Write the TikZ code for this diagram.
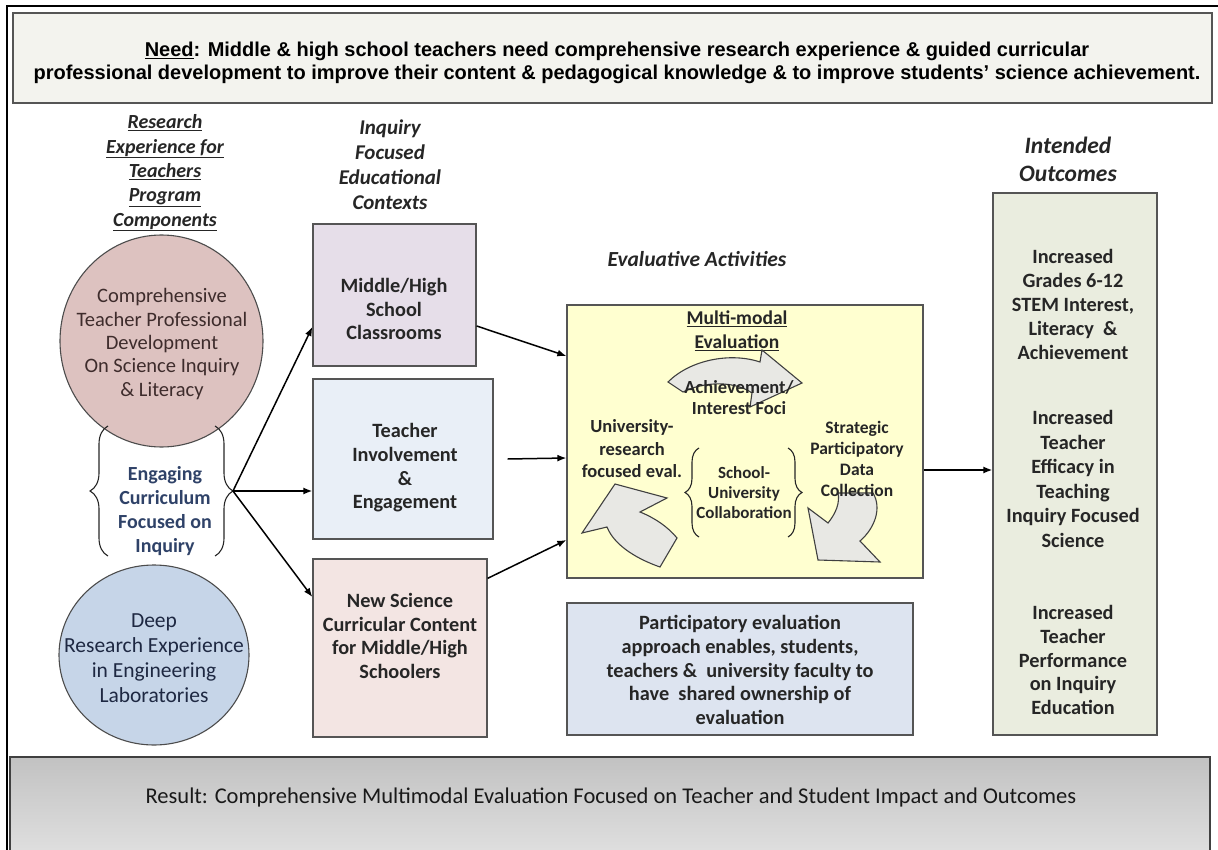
\documentclass[tikz,border=0pt]{standalone}
\usepackage{fontspec}
\setmainfont{Carlito}
\newfontfamily\arialn{Liberation Sans}
\usetikzlibrary{arrows.meta,decorations.pathreplacing,shapes.geometric}
\definecolor{needfill}{RGB}{243,243,238}
\definecolor{pinkc}{RGB}{221,194,192}
\definecolor{bluec}{RGB}{198,213,232}
\definecolor{boxa}{RGB}{230,222,233}
\definecolor{boxb}{RGB}{233,239,247}
\definecolor{boxc}{RGB}{243,229,227}
\definecolor{yell}{RGB}{255,255,208}
\definecolor{partc}{RGB}{221,228,240}
\definecolor{outc}{RGB}{234,237,223}
\definecolor{arrowgray}{RGB}{232,232,228}
\definecolor{navytxt}{RGB}{47,66,104}
\definecolor{browntxt}{RGB}{62,44,44}
\definecolor{navy2}{RGB}{30,40,66}
\definecolor{edgec}{RGB}{85,85,85}
\begin{document}
\begin{tikzpicture}[x=1pt,y=-1pt,
  box/.style={draw=edgec, line width=1.3, rectangle, inner sep=0pt},
  bodytxt/.style={align=center, text=black!85, font=\bfseries\fontsize{20.3}{23.5}\selectfont},
  hdr/.style={align=center, text=black!85, font=\bfseries\itshape\fontsize{20}{24.3}\selectfont},
  conn/.style={line width=1.5, -{Latex[length=9pt,width=7pt]}},
  cyc/.style={fill=arrowgray, draw=black!75, line width=1.1},
  brc/.style={decorate, decoration={brace, amplitude=#1}, line width=1.1, draw=black!85}
]
\useasboundingbox (0,0) rectangle (1218,850);
\clip (0,0) rectangle (1218,850);
% outer frame
\draw[line width=2.5] (7,850) -- (7,6) -- (1218,6);
% need box
\node[box, fill=needfill, line width=2, minimum width=1199, minimum height=90] (need) at (612.5,58) {};
\node[align=center, font=\arialn\bfseries\fontsize{20}{23}\selectfont] (needtxt) at (617,63)
 {\underline{Need}: Middle \& high school teachers need comprehensive research experience \& guided curricular\\
 professional development to improve their content \& pedagogical knowledge \& to improve students’ science achievement.};

% column 1
\node[hdr] (hdr1) at (165,173) {\underline{Research}\\\underline{Experience for}\\\underline{Teachers}\\\underline{Program}\\\underline{Components}};
\node[ellipse, draw=black!70, line width=1.1, fill=pinkc, minimum width=203, minimum height=212, inner sep=0pt] (c1) at (161.5,341) {};
\node[align=center, text=browntxt, font=\fontsize{20.5}{23.3}\selectfont] (c1t) at (162,344)
 {Comprehensive\\Teacher Professional\\Development\\On Science Inquiry\\\& Literacy};
\node[align=center, text=navytxt, font=\bfseries\fontsize{20}{24}\selectfont] (eng) at (165,511)
 {Engaging\\Curriculum\\Focused on\\Inquiry};
\draw[brc=18] (108,556) -- (108,426);
\draw[brc=18] (215,426) -- (215,556);
\coordinate (btip) at (233,491);
\node[ellipse, draw=black!70, line width=1.1, fill=bluec, minimum width=190, minimum height=180, inner sep=0pt] (c2) at (154,655) {};
\node[align=center, text=navy2, font=\fontsize{21.5}{25}\selectfont] (c2t) at (154,658)
 {Deep\\Research Experience\\in Engineering\\Laboratories};

% column 2
\node[hdr, font=\bfseries\itshape\fontsize{21}{25}\selectfont] (hdr2) at (390,165) {Inquiry\\Focused\\Educational\\Contexts};
\node[box, fill=boxa, minimum width=163, minimum height=142] (boxA) at (394.5,295) {};
\node[bodytxt] (boxAt) at (394,309) {Middle/High\\School\\Classrooms};
\node[box, fill=boxb, minimum width=180, minimum height=160] (boxB) at (403,459) {};
\node[bodytxt, font=\bfseries\fontsize{20.3}{23.7}\selectfont] (boxBt) at (405,468) {Teacher\\Involvement\\\&\\Engagement};
\node[box, fill=boxc, minimum width=174, minimum height=178] (boxC) at (400,648) {};
\node[bodytxt] (boxCt) at (400,636) {New Science\\Curricular Content\\for Middle/High\\Schoolers};

% column 3
\node[hdr, font=\bfseries\itshape\fontsize{21.5}{24}\selectfont] (hdr3) at (697,259) {Evaluative Activities};
\node[box, fill=yell, minimum width=356, minimum height=273] (yel) at (745,441.5) {};
\node[bodytxt, font=\bfseries\fontsize{19.5}{24}\selectfont] (mm) at (737,331) {\underline{Multi-modal}\\\underline{Evaluation}};
% cycle arrows
\draw[cyc] (668,382) .. controls (690,360) and (730,352) .. (760,362) -- (762,350) -- (802,383) -- (750,407) -- (752,393) .. controls (735,381) and (705,381) .. (683,392) -- cycle;
\draw[cyc] (615,484) -- (667,498) -- (640,512) .. controls (655,518) and (668,527) .. (677,538) -- (660,567) .. controls (640,560) and (615,547) .. (607,527) -- (582,533) -- cycle;
\draw[cyc] (838,493) -- (873,493) .. controls (882,508) and (875,528) .. (860,541) -- (880,562) -- (818,560) -- (808,508) -- (828,523) .. controls (836,513) and (840,503) .. (838,493) -- cycle;
\node[bodytxt, font=\bfseries\fontsize{18.5}{21}\selectfont] (ach) at (739,398) {Achievement/\\Interest Foci};
\node[bodytxt, font=\bfseries\fontsize{18.5}{22.5}\selectfont] (univ) at (632,449) {University-\\research\\focused eval.};
\node[bodytxt, font=\bfseries\fontsize{17.5}{21}\selectfont] (strat) at (857,459) {Strategic\\Participatory\\Data\\Collection};
\node[bodytxt, font=\bfseries\fontsize{17}{20}\selectfont] (sch) at (744,493) {School-\\University\\Collaboration};
\draw[brc=14] (699,537) -- (699,448);
\draw[brc=14] (788,448) -- (788,537);
\node[box, fill=partc, minimum width=346, minimum height=132] (part) at (740,669) {};
\node[bodytxt, font=\bfseries\fontsize{20.3}{23.8}\selectfont] (partt) at (740,670)
 {Participatory evaluation\\approach enables, students,\\teachers \&\ \ university faculty to\\have\ \ shared ownership of\\evaluation};

% column 4
\node[hdr, font=\bfseries\itshape\fontsize{23.5}{28}\selectfont] (hdr4) at (1068,159) {Intended\\Outcomes};
\node[box, fill=outc, minimum width=164, minimum height=542] (outb) at (1075,464) {};
\node[bodytxt, font=\bfseries\fontsize{20.3}{24}\selectfont] (o1) at (1073,304) {Increased\\Grades 6-12\\STEM Interest,\\Literacy\ \ \&\\Achievement};
\node[bodytxt, font=\bfseries\fontsize{20.3}{24.6}\selectfont] (o2) at (1073,479) {Increased\\Teacher\\Efficacy in\\Teaching\\Inquiry Focused\\Science};
\node[bodytxt, font=\bfseries\fontsize{20.3}{23.8}\selectfont] (o3) at (1073,660) {Increased\\Teacher\\Performance\\on Inquiry\\Education};

% result box
\node[box, draw=black!75, line width=1.5, top color=black!24, middle color=black!4, bottom color=black!12, minimum width=1200, minimum height=100] (res) at (610,807) {};
\node[text=black!90, font=\fontsize{22.5}{26}\selectfont] (rest) at (611,797) {Result: Comprehensive Multimodal Evaluation Focused on Teacher and Student Impact and Outcomes};

% connectors
\draw[conn] (btip) -- ([yshift=-32pt]boxA.west);
\draw[conn] (btip) -- ([yshift=-32pt]boxB.west);
\draw[conn] (btip) -- ([yshift=51pt]boxC.west);
\draw[conn] ([yshift=-31pt]boxA.east) -- ([yshift=85.5pt]yel.west);
\draw[conn] ([xshift=14pt]boxB.east) -- ([yshift=-16.5pt]yel.west);
\draw[conn] ([yshift=-20pt]boxC.north east) -- ([yshift=-98.5pt]yel.west);
\draw[conn] ([yshift=-28.5pt]yel.east) -- ([yshift=-6pt]outb.west);
\end{tikzpicture}
\end{document}
